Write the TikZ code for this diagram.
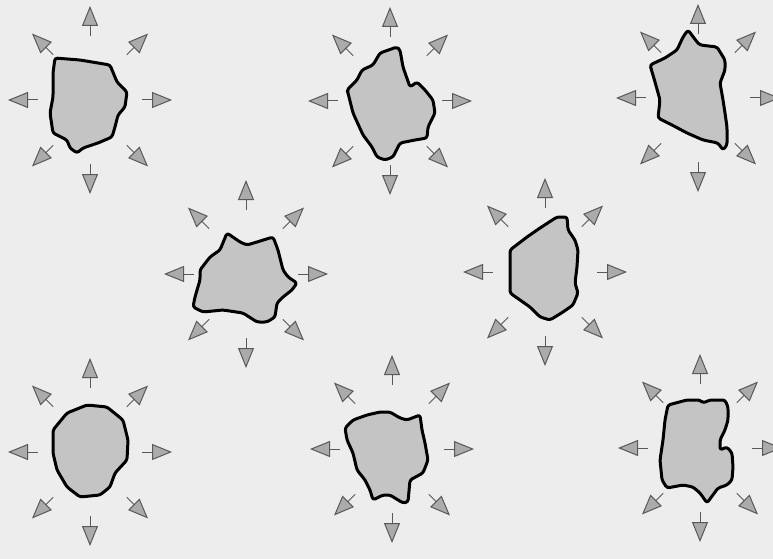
\documentclass[tikz,border=0pt]{standalone}
\usetikzlibrary{arrows.meta}

\begin{document}
\begin{tikzpicture}[x=1pt, y=-1pt,
  blob/.style={draw=black, line width=3pt, fill=black!23, rounded corners=2.5pt, line join=round},
  spread/.style={-{Triangle[length=20pt, width=16pt, fill=black!33]}, draw=black!65, line width=1pt}]
  % Frame
  \clip (0,0) rectangle (773,559);
  \fill[black!7] (0,0) rectangle (773,559);

  % Cell centres
  \coordinate (c1) at (90,100);
  \coordinate (c2) at (390,101);
  \coordinate (c3) at (698,98);
  \coordinate (c4) at (246,274);
  \coordinate (c5) at (545,272);
  \coordinate (c6) at (90,452);
  \coordinate (c7) at (392,449);
  \coordinate (c8) at (700,448);

  % Blobs
  \draw[blob] (55,58) -- (80,60) -- (110,65) -- (117,82) -- (127,92) -- (125,107) -- (118,115)
    -- (115,127) -- (112,137) -- (98,143) -- (83,148) -- (77,153) -- (70,148) -- (67,140)
    -- (53,133) -- (50,113) -- (53,97) -- (53,73) -- cycle;
  \draw[blob] (373,65) -- (380,53) -- (397,47) -- (400,50) -- (403,67) -- (410,87) -- (417,82)
    -- (425,90) -- (433,100) -- (435,113) -- (428,127) -- (427,138) -- (415,140) -- (400,143)
    -- (393,157) -- (385,160) -- (377,157) -- (372,147) -- (363,135) -- (353,113) -- (348,93)
    -- (347,90) -- (357,80) -- (362,70) -- cycle;
  \draw[blob] (688,30) -- (697,42) -- (700,45) -- (717,47) -- (725,60) -- (725,70) -- (720,83)
    -- (723,100) -- (725,113) -- (727,127) -- (727,145) -- (723,150) -- (718,143) -- (703,140)
    -- (687,133) -- (672,125) -- (658,118) -- (660,100) -- (655,82) -- (650,65) -- (665,58)
    -- (677,50) -- (683,37) -- cycle;
  \draw[blob] (227,233) -- (240,242) -- (247,245) -- (257,242) -- (273,237) -- (275,242)
    -- (278,250) -- (283,270) -- (288,277) -- (297,283) -- (292,290) -- (283,297) -- (277,303)
    -- (275,317) -- (267,322) -- (257,322) -- (243,313) -- (223,310) -- (203,312) -- (193,307)
    -- (195,297) -- (200,280) -- (200,270) -- (210,257) -- (220,250) -- cycle;
  \draw[blob] (510,250) -- (527,237) -- (540,228) -- (557,217) -- (567,217) -- (568,230)
    -- (575,240) -- (578,250) -- (577,267) -- (575,283) -- (578,293) -- (573,305) -- (563,312)
    -- (550,320) -- (540,317) -- (530,307) -- (520,300) -- (510,293) -- (510,277) -- (510,263) -- cycle;
  \draw[blob] (53,430) -- (67,413) -- (87,405) -- (107,407) -- (123,420) -- (128,440) -- (127,460)
    -- (115,473) -- (110,487) -- (100,495) -- (80,497) -- (67,487) -- (57,470) -- (53,453) -- cycle;
  \draw[blob] (345,428) -- (353,420) -- (367,415) -- (380,412) -- (390,412) -- (400,418)
    -- (407,420) -- (420,415) -- (422,430) -- (425,443) -- (428,460) -- (423,473) -- (410,480)
    -- (408,502) -- (403,503) -- (390,495) -- (383,495) -- (373,500) -- (370,490) -- (365,480)
    -- (357,470) -- (353,453) -- (347,440) -- cycle;
  \draw[blob] (668,405) -- (687,400) -- (700,400) -- (703,403) -- (710,400) -- (725,400)
    -- (728,407) -- (728,420) -- (725,430) -- (720,440) -- (720,450) -- (727,447) -- (732,453)
    -- (733,467) -- (732,480) -- (727,485) -- (718,488) -- (707,503) -- (700,493) -- (693,487)
    -- (683,485) -- (667,488) -- (662,480) -- (660,460) -- (663,440) -- (665,420) -- cycle;

  % Arrows around each blob
  \foreach \c in {c1,c2,c3,c4,c5,c6,c7,c8}
    \foreach \a in {0,45,...,315}
      \draw[spread] ([shift={(xy polar cs:angle=\a,x radius=52,y radius=64)}]\c)
        -- ([shift={(xy polar cs:angle=\a,x radius=82,y radius=94)}]\c);
\end{tikzpicture}
\end{document}
